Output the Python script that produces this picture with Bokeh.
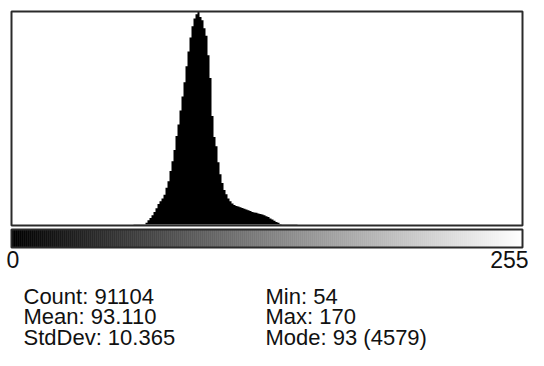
from bokeh.plotting import figure
from bokeh.models import Range1d, ColumnDataSource
from bokeh.core.properties import value
from bokeh.embed import file_html
from bokeh.resources import INLINE

# ---- data ----
bin_first = 54
counts = [
    1, 1, 1, 1, 2, 2, 2, 3, 3, 4, 5, 6, 8,                         # 54-66
    40, 90, 140, 200, 270, 350, 440, 500, 560, 640,                # 67-76
    790, 930, 1150, 1360, 1600, 1900, 2150, 2450, 2750, 3060,      # 77-86
    3400, 3720, 4020, 4260, 4430, 4520, 4579,                      # 87-93
    4460, 4390, 4220, 4060, 3640, 3150,                            # 94-99
    2330, 1880, 1680, 1340, 1080, 890, 740, 650, 560, 500, 450,    # 100-110
    420, 400, 385, 370, 355, 340, 320, 305, 290, 270, 260, 250,    # 111-122
    235, 225, 215, 200, 180, 160,                                  # 123-128
    130, 105, 80, 55, 35, 12, 8,                                   # 129-135
    6, 5, 4, 4, 3, 3, 3, 2, 2, 2, 2, 2, 2, 2, 1, 1, 1, 1,          # 136-153
    1, 1, 1, 1, 1, 1, 1, 1, 1, 1, 1, 1, 1, 1, 1, 1, 1,             # 154-170
]
lut_levels = 256
axis_labels = ["0", "255"]
stats_left = ["Count: 91104", "Mean: 93.110", "StdDev: 10.365"]
stats_right = ["Min: 54", "Max: 170", "Mode: 93 (4579)"]
mode_count = 4579

# ---- layout (canvas pixels, y measured from top) ----
W, H = 528, 350
px_per_bin = 2
bin0_x = 11         # canvas x of left edge of bin 0
base_y = 224        # canvas y of count 0
top_y = 11          # canvas y of the mode count
FONT = value("Liberation Sans")
FSIZE = "23px"
STAT_SIZE = "22px"
TXT = "#111111"
BORDER = "#2a2a2a"

p = figure(width=W, height=H, output_backend="svg", toolbar_location=None,
           x_range=Range1d(0, W), y_range=Range1d(H, 0),
           x_axis_type=None, y_axis_type=None, min_border=0,
           outline_line_color=None, background_fill_color="white",
           border_fill_color="white")

cpp = mode_count / (base_y - top_y)
p.extra_x_ranges = {"bins": Range1d(-bin0_x / px_per_bin, (W - bin0_x) / px_per_bin)}
p.extra_y_ranges = {"counts": Range1d(-(H - base_y) * cpp, mode_count + top_y * cpp)}

# histogram as a single step area (no seams between bins)
edges = list(range(bin_first, bin_first + len(counts) + 1))
heights = counts + [counts[-1]]
src = ColumnDataSource(dict(x=edges, y=heights))
p.varea_step(x="x", y1=0, y2="y", step_mode="after", source=src,
             x_range_name="bins", y_range_name="counts", fill_color="black")

# histogram frame
p.quad(left=[11], right=[522], top=[11], bottom=[225], fill_color=None,
       line_color=BORDER, line_width=2)

# LUT gradient bar
levels = list(range(lut_levels))
grays = ["#%02x%02x%02x" % (v, v, v) for v in levels]
gsrc = ColumnDataSource(dict(left=levels, right=[v + 1 for v in levels],
                             color=grays))
p.quad(left="left", right="right", top=229, bottom=247, source=gsrc,
       x_range_name="bins", fill_color="color", line_color="color", line_width=0.5)
p.quad(left=[11], right=[522], top=[229], bottom=[247], fill_color=None,
       line_color=BORDER, line_width=2)

# range labels
p.text(x=[6], y=[259], text=[axis_labels[0]], text_font=FONT, text_font_size=FSIZE,
       text_align="left", text_baseline="alphabetic", text_color=TXT)
p.text(x=[528], y=[259], text=[axis_labels[1]], text_font=FONT, text_font_size=FSIZE,
       text_align="right", text_baseline="alphabetic", text_color=TXT)

# statistics
rows_y = [295.5, 316, 336.5]
p.text(x=[23] * 3, y=rows_y, text=stats_left, text_font=FONT, text_font_size=STAT_SIZE,
       text_align="left", text_baseline="alphabetic", text_color=TXT)
p.text(x=[265] * 3, y=rows_y, text=stats_right, text_font=FONT, text_font_size=STAT_SIZE,
       text_align="left", text_baseline="alphabetic", text_color=TXT)

open("out.html", "w").write(file_html(p, INLINE))
